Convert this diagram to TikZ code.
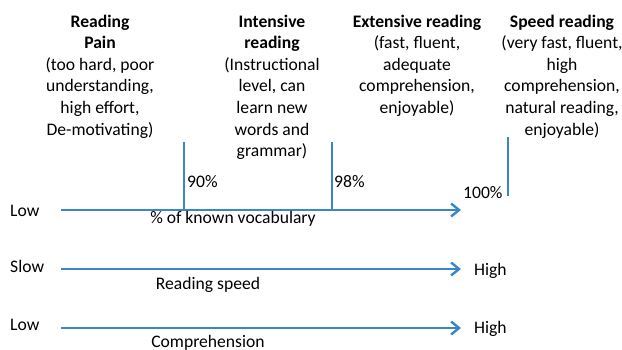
\documentclass[tikz,border=0pt]{standalone}
\usepackage{fontspec}
\setmainfont{Carlito}
\usetikzlibrary{arrows.meta}
\definecolor{axisblue}{RGB}{57,135,200}
\tikzset{
  axisline/.style={draw=axisblue,line width=2.6pt,-{Straight Barb[length=8pt,width=13pt,line width=2.4pt]}},
  tickline/.style={draw=axisblue,line width=2.3pt},
  zonetext/.style={anchor=north,align=center,inner sep=0pt},
  labeltext/.style={inner sep=0pt}
}

\begin{document}
\begin{tikzpicture}[x=1pt,y=-1pt,font=\fontsize{17.6}{21.6}\selectfont]
\useasboundingbox (0,0) rectangle (622,349);
% zones along the scale
\node[zonetext] (pain) at (100,14.5) {\textbf{Reading}\\\textbf{Pain}\\(too hard, poor\\understanding,\\high effort,\\De-motivating)};
\node[zonetext] (intens) at (272,14.5) {\textbf{Intensive}\\\textbf{reading}\\(Instructional\\level, can\\learn new\\words and\\grammar)};
\node[zonetext] (extens) at (417,14.5) {\textbf{Extensive reading}\\(fast, fluent,\\adequate\\comprehension,\\enjoyable)};
\node[zonetext] (speed) at (562,14.5) {\textbf{Speed reading}\\(very fast, fluent,\\high\\comprehension,\\natural reading,\\enjoyable)};
% vocabulary scale
\coordinate (v0) at (61,210);
\coordinate (v1) at (461,210);
\draw[axisline] (v0) -- (v1);
\node[labeltext,anchor=base west] (vlow) at (10,216) {Low};
\node[labeltext,anchor=base] (vname) at (233,223) {\% of known vocabulary};
\coordinate (t90) at (184,142);
\coordinate (t98) at (332,142);
\draw[tickline] (t90) -- (t90 |- v0);
\draw[tickline] (t98) -- (t98 |- v0);
\node[labeltext,anchor=base west] (p90) at (187,187) {90\%};
\node[labeltext,anchor=base west] (p98) at (334,187) {98\%};
\coordinate (t100a) at (508,137);
\coordinate (t100b) at (508,196);
\draw[tickline] (t100a) -- (t100b);
\node[labeltext,anchor=base west] (p100) at (463,198) {100\%};
% reading speed
\coordinate (s0) at (61,269);
\coordinate (s1) at (461,269);
\draw[axisline] (s0) -- (s1);
\node[labeltext,anchor=base west] (slow) at (10,272) {Slow};
\node[labeltext,anchor=base west] (shigh) at (474,275) {High};
\node[labeltext,anchor=base] (sname) at (208,289) {Reading speed};
% comprehension
\coordinate (c0) at (61,328);
\coordinate (c1) at (461,328);
\draw[axisline] (c0) -- (c1);
\node[labeltext,anchor=base west] (clow) at (10,330) {Low};
\node[labeltext,anchor=base west] (chigh) at (474,333) {High};
\node[labeltext,anchor=base] (cname) at (208,347) {Comprehension};
\end{tikzpicture}
\end{document}
